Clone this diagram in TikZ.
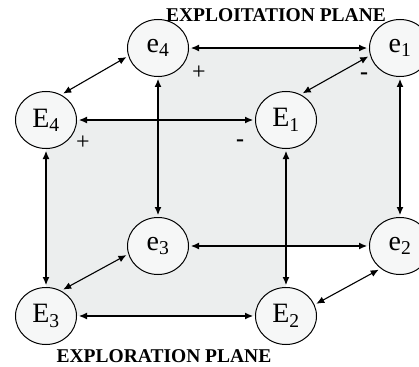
\documentclass[tikz,border=0pt]{standalone}
\usepackage{fontspec}
\setmainfont{Liberation Serif}
\usetikzlibrary{shapes.geometric,arrows.meta}

\begin{document}
\begin{tikzpicture}[x=1pt,y=-1pt,
    state/.style={ellipse, draw, line width=1pt, fill=nodefill, minimum width=61pt, minimum height=57pt, inner sep=0pt, outer sep=2.5pt, font=\fontsize{28}{28}\selectfont},
    link/.style={{Latex[length=8pt,width=7pt]}-{Latex[length=8pt,width=7pt]}, line width=1.1pt},
    sign/.style={font=\fontsize{24}{24}\selectfont},
    plane/.style={font=\bfseries\fontsize{19.5}{20}\selectfont}]
    % Define colors
    \definecolor{nodefill}{RGB}{246,247,247}
    \definecolor{planefill}{RGB}{236,238,238}

    \useasboundingbox (0,0) rectangle (419,366);

    % Shaded faces of the cube
    \fill[planefill] (158,48) rectangle (400,246);
    \fill[planefill] (46,120) rectangle (286,316);

    % Exploitation nodes
    \node[state] (e4) at (158,48) {e\textsubscript{4}};
    \node[state] (e1) at (400,48) {e\textsubscript{1}};
    \node[state] (e3) at (158,246) {e\textsubscript{3}};
    \node[state] (e2) at (400,246) {e\textsubscript{2}};

    % Exploration nodes
    \node[state] (E4) at (46,120) {E\textsubscript{4}};
    \node[state] (E1) at (286,120) {E\textsubscript{1}};
    \node[state] (E3) at (46,316) {E\textsubscript{3}};
    \node[state] (E2) at (286,316) {E\textsubscript{2}};

    % Edges of the cube
    \draw[link] (e4) -- (e1);
    \draw[link] (e3) -- (e2);
    \draw[link] (e4) -- (e3);
    \draw[link] (e1) -- (e2);
    \draw[link] (E4) -- (E1);
    \draw[link] (E3) -- (E2);
    \draw[link] (E4) -- (E3);
    \draw[link] (E1) -- (E2);
    \draw[link] (E4.57) -- (e4.196);
    \draw[link] (E1.58) -- (e1.195);
    \draw[link] (E3.57) -- (e3.196);
    \draw[link] (E2.22) -- (e2.228);

    % Signs
    \node[sign] (plus1) at (199,73) {+};
    \node[sign] (plus4) at (83,143) {+};
    \node[sign] (minus1) at (364,76) {\textbf{-}};
    \node[sign] (minus4) at (240,143) {\textbf{-}};

    % Plane labels
    \node[plane] (exploit) at (276,15) {EXPLOITATION PLANE};
    \node[plane] (explore) at (164,356) {EXPLORATION PLANE};
\end{tikzpicture}
\end{document}
